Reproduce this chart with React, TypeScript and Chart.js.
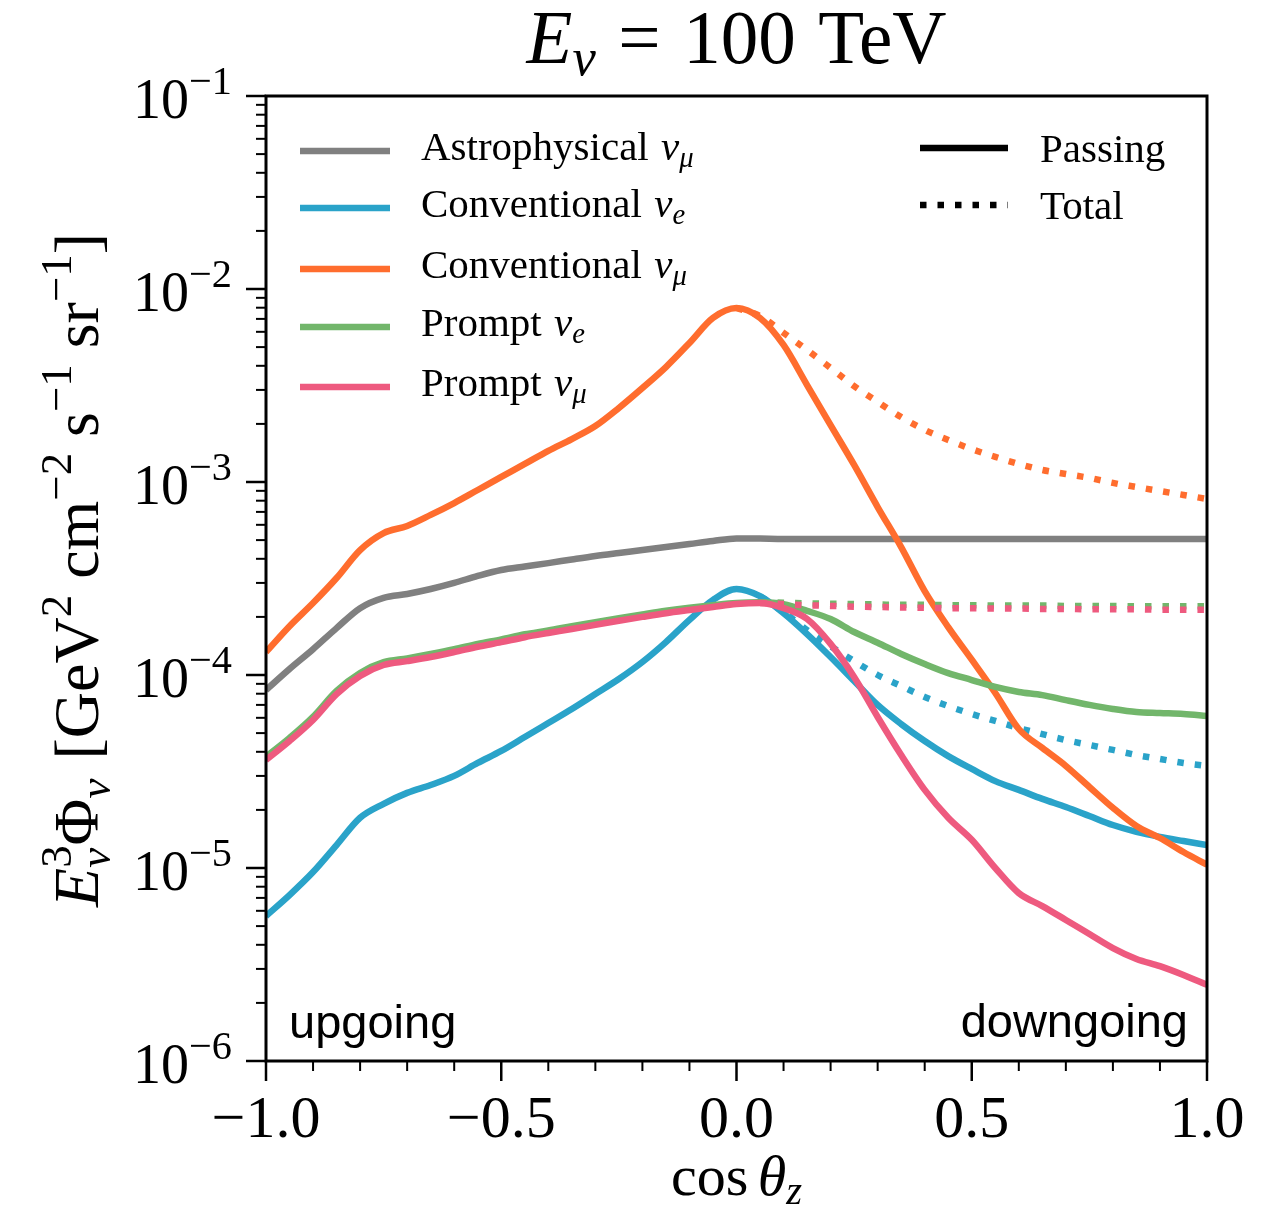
import React, { useEffect, useRef } from "react";
import { Chart, registerables } from "chart.js";
Chart.register(...registerables);

// ---------------- data ----------------
const cosZenith = [-1.0, -0.95, -0.9, -0.85, -0.8, -0.75, -0.7, -0.65, -0.6, -0.55, -0.5, -0.45, -0.4, -0.35, -0.3, -0.25, -0.2, -0.15, -0.1, -0.05, 0.0, 0.05, 0.1, 0.15, 0.2, 0.25, 0.3, 0.35, 0.4, 0.45, 0.5, 0.55, 0.6, 0.65, 0.7, 0.75, 0.8, 0.85, 0.9, 0.95, 1.0];

const astroNuMu = [8.36e-5, 1.074e-4, 1.36e-4, 1.75e-4, 2.22e-4, 2.51e-4, 2.63e-4, 2.79e-4, 3.0e-4, 3.26e-4, 3.5e-4, 3.65e-4, 3.8e-4, 3.97e-4, 4.14e-4, 4.29e-4, 4.44e-4, 4.6e-4, 4.77e-4, 4.95e-4, 5.1e-4, 5.09e-4, 5.07e-4, 5.07e-4, 5.07e-4, 5.07e-4, 5.07e-4, 5.07e-4, 5.07e-4, 5.07e-4, 5.07e-4, 5.07e-4, 5.07e-4, 5.07e-4, 5.07e-4, 5.07e-4, 5.07e-4, 5.07e-4, 5.07e-4, 5.07e-4, 5.07e-4];

const convNuEPassing = [5.64e-6, 7.24e-6, 9.53e-6, 1.315e-5, 1.82e-5, 2.15e-5, 2.45e-5, 2.69e-5, 3.0e-5, 3.5e-5, 4.04e-5, 4.77e-5, 5.64e-5, 6.67e-5, 7.97e-5, 9.53e-5, 1.167e-4, 1.48e-4, 1.93e-4, 2.45e-4, 2.79e-4, 2.56e-4, 2.09e-4, 1.63e-4, 1.24e-4, 9.31e-5, 7.0e-5, 5.57e-5, 4.55e-5, 3.8e-5, 3.26e-5, 2.82e-5, 2.54e-5, 2.28e-5, 2.07e-5, 1.86e-5, 1.67e-5, 1.54e-5, 1.45e-5, 1.38e-5, 1.315e-5];
const convNuETotal = [null, null, null, null, null, null, null, null, null, null, null, null, null, null, null, null, null, null, null, null, null, 2.56e-4, 2.12e-4, 1.71e-4, 1.41e-4, 1.18e-4, 1.0e-4, 8.77e-5, 7.69e-5, 6.9e-5, 6.28e-5, 5.78e-5, 5.31e-5, 4.94e-5, 4.6e-5, 4.34e-5, 4.09e-5, 3.85e-5, 3.67e-5, 3.5e-5, 3.38e-5];

const convNuMuPassing = [1.315e-4, 1.79e-4, 2.36e-4, 3.18e-4, 4.44e-4, 5.44e-4, 5.92e-4, 6.75e-4, 7.78e-4, 9.09e-4, 1.062e-3, 1.24e-3, 1.45e-3, 1.67e-3, 1.95e-3, 2.42e-3, 3.07e-3, 3.94e-3, 5.25e-3, 7.08e-3, 7.97e-3, 7.08e-3, 5.13e-3, 3.18e-3, 1.97e-3, 1.225e-3, 7.42e-4, 4.6e-4, 2.72e-4, 1.77e-4, 1.2e-4, 8.07e-5, 5.25e-5, 4.19e-5, 3.38e-5, 2.63e-5, 2.05e-5, 1.65e-5, 1.43e-5, 1.21e-5, 1.04e-5];
const convNuMuTotal = [null, null, null, null, null, null, null, null, null, null, null, null, null, null, null, null, null, null, null, null, 7.97e-3, 7.24e-3, 5.92e-3, 4.83e-3, 3.9e-3, 3.14e-3, 2.6e-3, 2.17e-3, 1.86e-3, 1.65e-3, 1.48e-3, 1.35e-3, 1.24e-3, 1.155e-3, 1.1e-3, 1.05e-3, 9.89e-4, 9.42e-4, 8.98e-4, 8.57e-4, 8.17e-4];

const promptNuEPassing = [3.77e-5, 4.72e-5, 6.07e-5, 8.27e-5, 1.025e-4, 1.165e-4, 1.22e-4, 1.285e-4, 1.36e-4, 1.45e-4, 1.53e-4, 1.625e-4, 1.7e-4, 1.79e-4, 1.88e-4, 1.97e-4, 2.06e-4, 2.15e-4, 2.23e-4, 2.3e-4, 2.36e-4, 2.38e-4, 2.33e-4, 2.15e-4, 1.95e-4, 1.67e-4, 1.47e-4, 1.285e-4, 1.14e-4, 1.023e-4, 9.42e-5, 8.67e-5, 8.17e-5, 7.87e-5, 7.41e-5, 7.0e-5, 6.67e-5, 6.43e-5, 6.35e-5, 6.28e-5, 6.13e-5];
const promptNuETotal = [null, null, null, null, null, null, null, null, null, null, null, null, null, null, null, null, null, null, null, null, null, 2.38e-4, 2.37e-4, 2.35e-4, 2.34e-4, 2.33e-4, 2.32e-4, 2.31e-4, 2.31e-4, 2.3e-4, 2.3e-4, 2.29e-4, 2.29e-4, 2.29e-4, 2.28e-4, 2.28e-4, 2.28e-4, 2.27e-4, 2.27e-4, 2.27e-4, 2.27e-4];

const promptNuMuPassing = [3.63e-5, 4.55e-5, 5.85e-5, 7.97e-5, 9.89e-5, 1.127e-4, 1.18e-4, 1.24e-4, 1.315e-4, 1.4e-4, 1.48e-4, 1.57e-4, 1.65e-4, 1.73e-4, 1.82e-4, 1.91e-4, 2.0e-4, 2.09e-4, 2.17e-4, 2.25e-4, 2.33e-4, 2.36e-4, 2.22e-4, 1.95e-4, 1.45e-4, 9.77e-5, 6.06e-5, 3.85e-5, 2.54e-5, 1.82e-5, 1.4e-5, 1.0e-5, 7.41e-6, 6.35e-6, 5.38e-6, 4.55e-6, 3.85e-6, 3.38e-6, 3.1e-6, 2.79e-6, 2.48e-6];
const promptNuMuTotal = [null, null, null, null, null, null, null, null, null, null, null, null, null, null, null, null, null, null, null, null, null, 2.36e-4, 2.33e-4, 2.3e-4, 2.28e-4, 2.26e-4, 2.25e-4, 2.24e-4, 2.23e-4, 2.22e-4, 2.22e-4, 2.21e-4, 2.21e-4, 2.2e-4, 2.2e-4, 2.19e-4, 2.19e-4, 2.19e-4, 2.18e-4, 2.18e-4, 2.18e-4];

const xMajorTicks = [-1.0, -0.5, 0.0, 0.5, 1.0];
const xMajorLabels = ["\u22121.0", "\u22120.5", "0.0", "0.5", "1.0"];
const xMinorTicks = [-0.9, -0.8, -0.7, -0.6, -0.4, -0.3, -0.2, -0.1, 0.1, 0.2, 0.3, 0.4, 0.6, 0.7, 0.8, 0.9];
const yDecadeExponents = [-6, -5, -4, -3, -2, -1];

const legendFlux = ["Astrophysical", "Conventional", "Conventional", "Prompt", "Prompt"];
const legendFlavor = ["\u03bc", "e", "\u03bc", "e", "\u03bc"];
const legendStyles = ["Passing", "Total"];

const COL = {
  gray: "#808080",
  blue: "#2aa3c9",
  orange: "#ff6d2e",
  green: "#72b66b",
  pink: "#ee5a7f",
};
const legendColors = [COL.gray, COL.blue, COL.orange, COL.green, COL.pink];

const SERIF = '"Liberation Serif", "DejaVu Serif", serif';
const SANS = '"Liberation Sans", Arial, sans-serif';

type Seg = { t: string; s?: number; it?: boolean; dy?: number; dx?: number; stack?: boolean; fam?: string };

function layoutRich(ctx: CanvasRenderingContext2D, segs: Seg[], base: number) {
  let x = 0, prevStart = 0, prevEnd = 0;
  const items: { font: string; start: number; dy: number; t: string }[] = [];
  for (const g of segs) {
    const size = base * (g.s ?? 1);
    const font = `${g.it ? "italic " : ""}${size}px ${g.fam ?? SERIF}`;
    ctx.font = font;
    const w = ctx.measureText(g.t).width;
    let start: number;
    if (g.stack) {
      start = prevStart;
      x = Math.max(prevEnd, start + w);
      prevEnd = x;
    } else {
      start = x + (g.dx ?? 0) * base;
      x = start + w;
      prevStart = start;
      prevEnd = x;
    }
    items.push({ font, start, dy: (g.dy ?? 0) * base, t: g.t });
  }
  return { items, width: x };
}

function drawRich(ctx: CanvasRenderingContext2D, segs: Seg[], base: number, x: number, y: number, align: string, target?: number) {
  let L = layoutRich(ctx, segs, base);
  if (target) {
    base = (base * target) / L.width;
    L = layoutRich(ctx, segs, base);
  }
  const x0 = align === "center" ? x - L.width / 2 : align === "right" ? x - L.width : x;
  ctx.textAlign = "left";
  ctx.textBaseline = "alphabetic";
  for (const it of L.items) {
    ctx.font = it.font;
    ctx.fillText(it.t, x0 + it.start, y + it.dy);
  }
}

const decor = {
  id: "decor",
  afterDraw(chart: any) {
    const { ctx, chartArea: a, scales } = chart;
    const xs = scales.x, ys = scales.y;
    ctx.save();
    ctx.fillStyle = "#000";
    ctx.strokeStyle = "#000";

    // frame
    ctx.lineWidth = 3;
    ctx.strokeRect(a.left, a.top, a.right - a.left, a.bottom - a.top);

    // y ticks
    for (const e of yDecadeExponents) {
      const yp = ys.getPixelForValue(Math.pow(10, e));
      ctx.lineWidth = 2.5;
      ctx.beginPath();
      ctx.moveTo(a.left - 20, yp);
      ctx.lineTo(a.left, yp);
      ctx.stroke();
      if (e < -1) {
        for (let m = 2; m <= 9; m++) {
          const ym = ys.getPixelForValue(m * Math.pow(10, e));
          ctx.lineWidth = 2;
          ctx.beginPath();
          ctx.moveTo(a.left - 10, ym);
          ctx.lineTo(a.left, ym);
          ctx.stroke();
        }
      }
      drawRich(ctx, [{ t: "10" }, { t: "\u2212" + String(-e), s: 0.72, dy: -0.42 }], 56, a.left - 34, yp + 22, "right");
    }

    // x ticks
    xMajorTicks.forEach((v, i) => {
      const xp = xs.getPixelForValue(v);
      ctx.lineWidth = 2.5;
      ctx.beginPath();
      ctx.moveTo(xp, a.bottom);
      ctx.lineTo(xp, a.bottom + 20);
      ctx.stroke();
      drawRich(ctx, [{ t: xMajorLabels[i] }], 60, xp, a.bottom + 76, "center");
    });
    for (const v of xMinorTicks) {
      const xp = xs.getPixelForValue(v);
      ctx.lineWidth = 2;
      ctx.beginPath();
      ctx.moveTo(xp, a.bottom);
      ctx.lineTo(xp, a.bottom + 10);
      ctx.stroke();
    }

    // title
    drawRich(
      ctx,
      [
        { t: "E", it: true },
        { t: "\u03bd", it: true, s: 0.7, dy: 0.16 },
        { t: "=", dx: 0.3 },
        { t: "100", dx: 0.3 },
        { t: "TeV", dx: 0.3 },
      ],
      72,
      (a.left + a.right) / 2,
      63,
      "center",
      420
    );

    // x label
    drawRich(
      ctx,
      [{ t: "cos" }, { t: "\u03b8", it: true, dx: 0.16 }, { t: "z", it: true, s: 0.7, dy: 0.16 }],
      60,
      (a.left + a.right) / 2,
      1195,
      "center",
      131
    );

    // y label
    ctx.save();
    ctx.translate(98, 570);
    ctx.rotate(-Math.PI / 2);
    drawRich(
      ctx,
      [
        { t: "E", it: true },
        { t: "\u03bd", it: true, s: 0.7, dy: 0.18 },
        { t: "3", s: 0.7, dy: -0.42, stack: true },
        { t: "\u03a6" },
        { t: "\u03bd", it: true, s: 0.7, dy: 0.18 },
        { t: "[GeV", dx: 0.3 },
        { t: "2", s: 0.7, dy: -0.42 },
        { t: "cm", dx: 0.25 },
        { t: "\u22122", s: 0.7, dy: -0.42 },
        { t: "s", dx: 0.25 },
        { t: "\u22121", s: 0.7, dy: -0.42 },
        { t: "sr", dx: 0.25 },
        { t: "\u22121", s: 0.7, dy: -0.42 },
        { t: "]" },
      ],
      60,
      0,
      0,
      "center",
      674
    );
    ctx.restore();

    // left legend
    const legY = [151, 208, 269, 327, 387];
    legendFlux.forEach((name, i) => {
      ctx.strokeStyle = legendColors[i];
      ctx.lineWidth = 6.5;
      ctx.setLineDash([]);
      ctx.lineCap = "butt";
      ctx.beginPath();
      ctx.moveTo(300, legY[i]);
      ctx.lineTo(390, legY[i]);
      ctx.stroke();
      ctx.fillStyle = "#000";
      drawRich(
        ctx,
        [
          { t: name },
          { t: "\u03bd", it: true, dx: 0.3 },
          { t: legendFlavor[i], it: true, s: 0.7, dy: 0.17 },
        ],
        41,
        421,
        legY[i] + 9,
        "left"
      );
    });

    // right legend
    ctx.strokeStyle = "#000";
    ctx.lineWidth = 6.5;
    ctx.beginPath();
    ctx.moveTo(920, 148);
    ctx.lineTo(1008, 148);
    ctx.stroke();
    ctx.setLineDash([6.5, 11]);
    ctx.beginPath();
    ctx.moveTo(920, 205);
    ctx.lineTo(1008, 205);
    ctx.stroke();
    ctx.setLineDash([]);
    drawRich(ctx, [{ t: legendStyles[0] }], 41, 1040, 162, "left");
    drawRich(ctx, [{ t: legendStyles[1] }], 41, 1040, 219, "left");

    // annotations
    ctx.fillStyle = "#000";
    drawRich(ctx, [{ t: "upgoing", fam: SANS }], 47, a.left + 23, 1038, "left");
    drawRich(ctx, [{ t: "downgoing", fam: SANS }], 47, a.right - 19, 1037, "right");

    ctx.restore();
  },
};

function pts(arr: (number | null)[]) {
  const out: { x: number; y: number }[] = [];
  arr.forEach((v, i) => {
    if (v !== null) out.push({ x: cosZenith[i], y: v });
  });
  return out;
}

export default function App() {
  const ref = useRef<HTMLCanvasElement | null>(null);
  useEffect(() => {
    if (!ref.current) return;
    const solid = (data: (number | null)[], color: string) => ({
      data: pts(data),
      borderColor: color,
      backgroundColor: color,
      borderWidth: 6.5,
      pointRadius: 0,
      fill: false,
      cubicInterpolationMode: "monotone" as const,
      borderCapStyle: "butt" as const,
    });
    const dotted = (data: (number | null)[], color: string) => ({
      ...solid(data, color),
      borderDash: [6.5, 11],
    });
    const chart = new Chart(ref.current, {
      type: "line",
      data: {
        datasets: [
          solid(promptNuMuPassing, COL.pink),
          dotted(promptNuMuTotal, COL.pink),
          solid(promptNuEPassing, COL.green),
          dotted(promptNuETotal, COL.green),
          solid(convNuMuPassing, COL.orange),
          dotted(convNuMuTotal, COL.orange),
          solid(convNuEPassing, COL.blue),
          dotted(convNuETotal, COL.blue),
          solid(astroNuMu, COL.gray),
        ] as any,
      },
      options: {
        responsive: false,
        animation: false,
        devicePixelRatio: 1,
        layout: { padding: { left: 266, right: 67, top: 96, bottom: 148 } },
        plugins: { legend: { display: false }, tooltip: { enabled: false }, title: { display: false } },
        scales: {
          x: { type: "linear", min: -1, max: 1, display: false },
          y: { type: "logarithmic", min: 1e-6, max: 1e-1, display: false },
        },
      },
      plugins: [decor],
    });
    return () => chart.destroy();
  }, []);
  return (
    <div style={{ position: "fixed", left: 0, top: 0, width: 1274, height: 1209, background: "#fff" }}>
      <canvas ref={ref} width={1274} height={1209} />
    </div>
  );
}
